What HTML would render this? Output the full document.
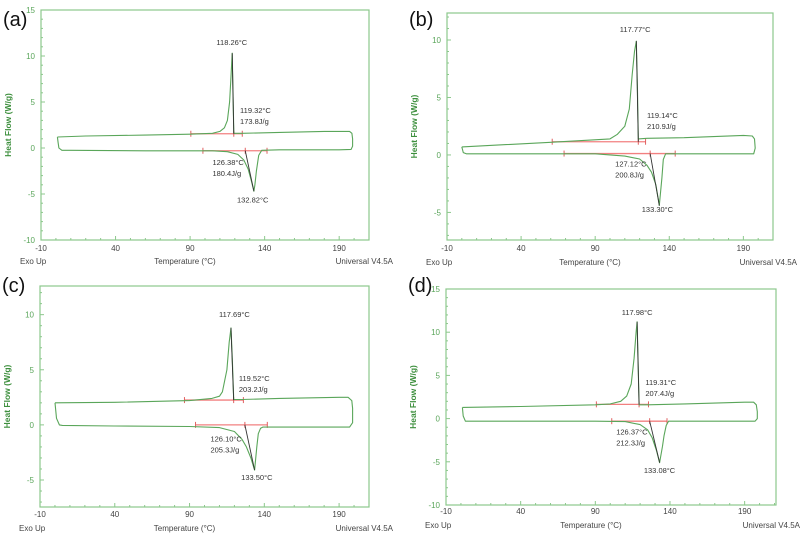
<!DOCTYPE html>
<html><head><meta charset="utf-8">
<style>
html,body{margin:0;padding:0;background:#fff;}
svg{display:block;font-family:"Liberation Sans",sans-serif;}
</style></head>
<body>
<svg id="fig" width="800" height="539" viewBox="0 0 800 539"></svg>
<script>
// ---- data arrays (T in °C, heat flow in W/g) ----
const xTicks = [-10, 40, 90, 140, 190];
const yTicksA = [-10, -5, 0, 5, 10, 15];
const yTicksB = [-5, 0, 5, 10];
const yTicksC = [-5, 0, 5, 10];
const yTicksD = [-10, -5, 0, 5, 10, 15];

const curveA_T  = [1,20,60,90,105,110,113,115,116.5,117.5,118.26,118.8,119.3,125,150,180,197,198.5,199,199,198,190,150,138,136,134.5,133.5,132.82,131,129,126,122,115,105,60,10,4,2,1.5,1];
const curveA_HF = [1.2,1.3,1.4,1.5,1.6,1.8,2.2,3,5,8,10.3,6,1.6,1.6,1.7,1.8,1.8,1.6,1,0.2,-0.15,-0.2,-0.2,-0.25,-0.8,-2.5,-4,-4.7,-3.5,-2.3,-1.3,-0.7,-0.4,-0.3,-0.3,-0.25,-0.25,0,0.6,1.2];

const curveB_T  = [0,30,60,100,105,110,113,115,116.5,117.77,118.5,119.1,125,150,190,196,197.5,198,197,190,150,139,137.5,136,135,133.3,131,128,125,120,110,90,40,5,3,1,0];
const curveB_HF = [0.7,0.9,1.1,1.4,1.8,2.5,4,7,9,9.9,6,1.4,1.45,1.5,1.7,1.65,1.4,0.6,0.1,0.1,0.1,0.1,0.1,-0.4,-2,-4.4,-2.6,-1.5,-0.9,-0.35,-0.1,0.1,0.1,0.1,0.1,0.2,0.7];

const curveC_T  = [0,40,90,105,110,112,115,116.5,117.69,118.6,119.5,125,150,190,196,198.5,199,199,197,190,150,139,137.5,136,135,133.5,131,128,125,120,110,90,40,5,3,1,0];
const curveC_HF = [2.0,2.05,2.2,2.4,2.6,3,5,7.5,8.8,6,2.3,2.3,2.4,2.5,2.5,2.2,1.5,0.2,-0.2,-0.2,-0.2,-0.2,-0.3,-0.8,-2,-4.1,-3,-2,-1.3,-0.6,-0.25,-0.15,-0.1,-0.05,0,0.6,2.0];

const curveD_T  = [1,40,90,100,107,111,114,116,117.3,117.98,118.7,119.31,125,150,190,196,197.8,198.5,198.5,197,190,150,139,137.5,136,135,133.08,131,128,125,120,110,90,40,5,3,1.5,1];
const curveD_HF = [1.3,1.4,1.6,1.7,2,2.6,4,7,10,11.2,6,1.6,1.6,1.7,1.9,1.9,1.6,0.8,0,-0.3,-0.3,-0.3,-0.3,-0.8,-2,-3.2,-5.1,-3.7,-2.2,-1.3,-0.7,-0.35,-0.3,-0.3,-0.3,-0.3,0.3,1.3];

// baselines: [Tstart, Tend, HF, Tmid]
const baseA = [[90.5,125,1.55,119.3],[98.6,141.6,-0.3,127]];
const baseB = [[61,124,1.15,119.1],[69,144,0.12,127.1]];
const baseC = [[86.6,126,2.25,119.5],[94,142,0,127]];
const baseD = [[90.7,125.6,1.65,119.3],[101,138,-0.3,126.4]];

// annotations: [T, HF, text, anchor]
const annA = [[118,11.2,"118.26°C","middle"],[123.5,3.8,"119.32°C","start"],[123.5,2.6,"173.8J/g","start"],[105,-1.85,"126.38°C","start"],[105,-3.05,"180.4J/g","start"],[132,-5.9,"132.82°C","middle"]];
const annB = [[117,10.7,"117.77°C","middle"],[125,3.2,"119.14°C","start"],[125,2.25,"210.9J/g","start"],[103.5,-1.0,"127.12°C","start"],[103.5,-1.95,"200.8J/g","start"],[132,-4.95,"133.30°C","middle"]];
const annC = [[120,9.8,"117.69°C","middle"],[123,4.0,"119.52°C","start"],[123,3.0,"203.2J/g","start"],[104,-1.5,"126.10°C","start"],[104,-2.5,"205.3J/g","start"],[135,-5.0,"133.50°C","middle"]];
const annD = [[118,12.0,"117.98°C","middle"],[123.5,3.9,"119.31°C","start"],[123.5,2.6,"207.4J/g","start"],[104,-1.85,"126.37°C","start"],[104,-3.1,"212.3J/g","start"],[133,-6.3,"133.08°C","middle"]];

// ---- layout ----
const panels = [
 {id:"a", L:41,T:10,R:369,B:240, xmin:-10,xmax:210, ymin:-10,ymax:15, yt:yTicksA, cT:curveA_T, cH:curveA_HF, base:baseA, ann:annA, lblY:26, tickY:251, footY:264},
 {id:"b", L:447,T:13,R:773,B:240, xmin:-10,xmax:210, ymin:-7.4,ymax:12.35, yt:yTicksB, cT:curveB_T, cH:curveB_HF, base:baseB, ann:annB, lblY:26, tickY:251, footY:265},
 {id:"c", L:40,T:286,R:369,B:507, xmin:-10,xmax:210, ymin:-7.45,ymax:12.6, yt:yTicksC, cT:curveC_T, cH:curveC_HF, base:baseC, ann:annC, lblY:292, tickY:517, footY:531},
 {id:"d", L:446,T:289,R:776,B:505, xmin:-10,xmax:211, ymin:-10,ymax:15, yt:yTicksD, cT:curveD_T, cH:curveD_HF, base:baseD, ann:annD, lblY:292, tickY:514, footY:528}
];
const NS="http://www.w3.org/2000/svg";
const svg=document.getElementById("fig");
function mk(tag,attrs,parent){const e=document.createElementNS(NS,tag);for(const k in attrs)e.setAttribute(k,attrs[k]);(parent||svg).appendChild(e);return e;}

panels.forEach(p=>{
  const g=mk("g",{});
  
  
  const xs=t=>p.L+(t-p.xmin)/(p.xmax-p.xmin)*(p.R-p.L);
  const ys=v=>p.B-(v-p.ymin)/(p.ymax-p.ymin)*(p.B-p.T);

  const lab=mk("text",{x:p.L-38,y:p.lblY,"font-size":"20",fill:"#111"},g);
  lab.textContent="("+p.id+")";
  
  

  const box=mk("rect",{x:p.L,y:p.T,width:p.R-p.L,height:p.B-p.T,fill:"none",stroke:"#8cc88c","stroke-width":"1.2"},g);
  
  

  for(let v=Math.ceil(p.ymin);v<=p.ymax;v++){const y=ys(v);mk("line",{x1:p.L,x2:p.L+(v%5===0?4:2),y1:y,y2:y,stroke:"#8cc88c"},g);}
  for(let t=-10;t<=p.xmax;t+=10){const x=xs(t);mk("line",{x1:x,x2:x,y1:p.B,y2:p.B-((t+10)%50===0?4:2),stroke:"#8cc88c"},g);}

  p.yt.forEach(v=>{
    const t=mk("text",{x:p.L-6,y:ys(v)+3,"font-size":"8","text-anchor":"end",fill:"#5aa55a"},g);
    t.textContent=v;
    
    
  });
  xTicks.forEach(v=>{
    const t=mk("text",{x:xs(v),y:p.tickY,"font-size":"8","text-anchor":"middle",fill:"#444"},g);
    t.textContent=v;
    
    
  });
  const cy=(p.T+p.B)/2, yx=p.L-30;
  const yl=mk("text",{x:yx,y:cy,"font-size":"8.5","font-weight":"bold","text-anchor":"middle",fill:"#3d8f3d",transform:`rotate(-90 ${yx} ${cy})`},g);
  yl.textContent="Heat Flow (W/g)";
  
  
  const f1=mk("text",{x:p.L-21,y:p.footY,"font-size":"8",fill:"#444"},g);f1.textContent="Exo Up";
  
  
  const f2=mk("text",{x:(p.L+p.R)/2-20,y:p.footY,"font-size":"8","text-anchor":"middle",fill:"#444"},g);f2.textContent="Temperature (°C)";
  
  
  const f3=mk("text",{x:p.R+24,y:p.footY,"font-size":"8","text-anchor":"end",fill:"#444"},g);f3.textContent="Universal V4.5A";
  
  

  p.base.forEach(b=>{
    const y=ys(b[2]);
    const bl=mk("line",{x1:xs(b[0]),x2:xs(b[1]),y1:y,y2:y,stroke:"#f28080","stroke-width":"1.3"},g);
    
    
    [b[0],b[3],b[1]].forEach(t=>mk("line",{x1:xs(t),x2:xs(t),y1:y-3,y2:y+3,stroke:"#e06060","stroke-width":"1"},g));
  });

  const pts=p.cT.map((t,i)=>xs(t).toFixed(1)+","+ys(p.cH[i]).toFixed(1)).join(" ");
  const c=mk("polyline",{points:pts+" "+xs(p.cT[0]).toFixed(1)+","+ys(p.cH[0]).toFixed(1),fill:"none",stroke:"#5aa65a","stroke-width":"1.1","stroke-linejoin":"round"},g);
  
  

  let imax=0,imin=0;p.cH.forEach((v,i)=>{if(v>p.cH[imax])imax=i;if(v<p.cH[imin])imin=i;});
  mk("line",{x1:xs(p.cT[imax]),y1:ys(p.cH[imax]),x2:xs(p.base[0][3]),y2:ys(p.base[0][2]),stroke:"#333","stroke-width":"0.9"},g);
  mk("line",{x1:xs(p.cT[imin]),y1:ys(p.cH[imin]),x2:xs(p.base[1][3]),y2:ys(p.base[1][2]),stroke:"#333","stroke-width":"0.9"},g);

  p.ann.forEach(a=>{
    const t=mk("text",{x:xs(a[0]),y:ys(a[1]),"font-size":"7.5","text-anchor":a[3],fill:"#333"},g);
    t.textContent=a[2];
    
    
  });
});
</script>
</body></html>
